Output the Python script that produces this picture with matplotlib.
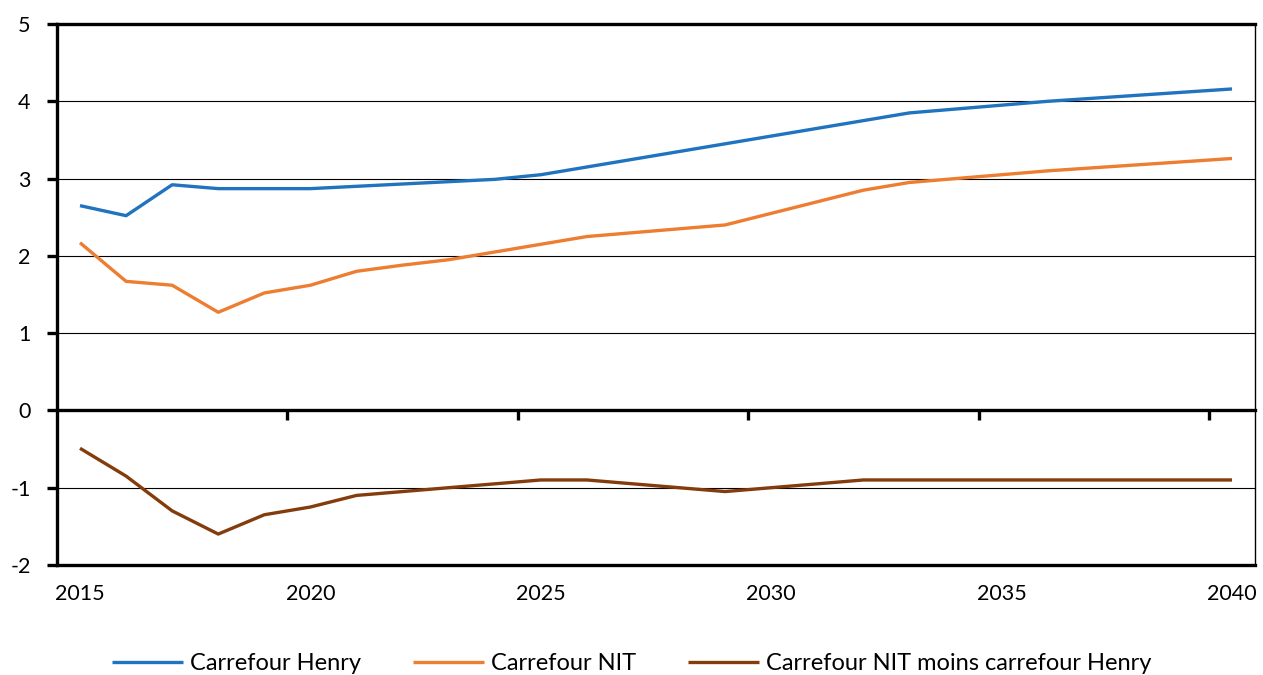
import matplotlib
matplotlib.use("Agg")
import matplotlib.pyplot as plt

years = list(range(2015, 2041))
henry = [2.65, 2.52, 2.92, 2.87, 2.87, 2.87, 2.90, 2.93, 2.96, 2.99, 3.05,
         3.15, 3.25, 3.35, 3.45, 3.55, 3.65, 3.75, 3.85, 3.90, 3.95, 4.00,
         4.04, 4.08, 4.12, 4.16]
nit = [2.17, 1.67, 1.62, 1.27, 1.52, 1.62, 1.80, 1.88, 1.95, 2.05, 2.15,
       2.25, 2.30, 2.35, 2.40, 2.55, 2.70, 2.85, 2.95, 3.00, 3.05, 3.10,
       3.14, 3.18, 3.22, 3.26]
diff = [-0.49, -0.85, -1.30, -1.60, -1.35, -1.25, -1.10, -1.05, -1.00, -0.95, -0.90,
        -0.90, -0.95, -1.00, -1.05, -1.00, -0.95, -0.90, -0.90, -0.90, -0.90, -0.90,
        -0.90, -0.90, -0.90, -0.90]
labels = ["Carrefour Henry", "Carrefour NIT", "Carrefour NIT moins carrefour Henry"]
colors = ["#2073BE", "#ED7D31", "#843C0C"]
xtick_years = [2015, 2020, 2025, 2030, 2035, 2040]

plt.rcParams['font.family'] = ['Lato', 'DejaVu Sans']

fig = plt.figure(figsize=(12.63, 6.75), dpi=100)
ax = fig.add_axes([0.0451, 0.163, 0.9486, 0.8014])

for vals, lab, col in zip([henry, nit, diff], labels, colors):
    ax.plot(years, vals, color=col, lw=2.4, label=lab, solid_capstyle='butt')

ax.set_xlim(2014.5, 2040.5)
ax.set_ylim(-2, 5)
ax.set_yticks(range(-2, 6))
ax.set_yticklabels([str(v) for v in range(-2, 6)], fontsize=15.5)
for v in [-1, 1, 2, 3, 4]:
    ax.axhline(v, color='black', lw=0.8, zorder=0)

ax.spines['left'].set_linewidth(2.4)
ax.spines['top'].set_linewidth(2.4)
ax.spines['right'].set_linewidth(1.0)
ax.spines['bottom'].set_position(('data', 0))
ax.spines['bottom'].set_linewidth(2.4)
ax.set_xticks([2019.5, 2024.5, 2029.5, 2034.5, 2039.5])
ax.set_xticklabels([])
ax.tick_params(axis='x', direction='out', length=7, width=2.4)
ax.tick_params(axis='y', direction='out', length=7, width=2.4, pad=12)

sec = ax.secondary_xaxis(0)
sec.set_xticks(xtick_years)
sec.set_xticklabels([str(y) for y in xtick_years], fontsize=15.5)
sec.tick_params(length=0, pad=14)
sec.spines['bottom'].set_linewidth(2.4)

fig.legend(loc='lower center', bbox_to_anchor=(0.5, -0.03), ncol=3, frameon=False,
           fontsize=17, handlelength=3.0, columnspacing=2.2, handletextpad=0.3)

fig.savefig("out.png", dpi=100)
